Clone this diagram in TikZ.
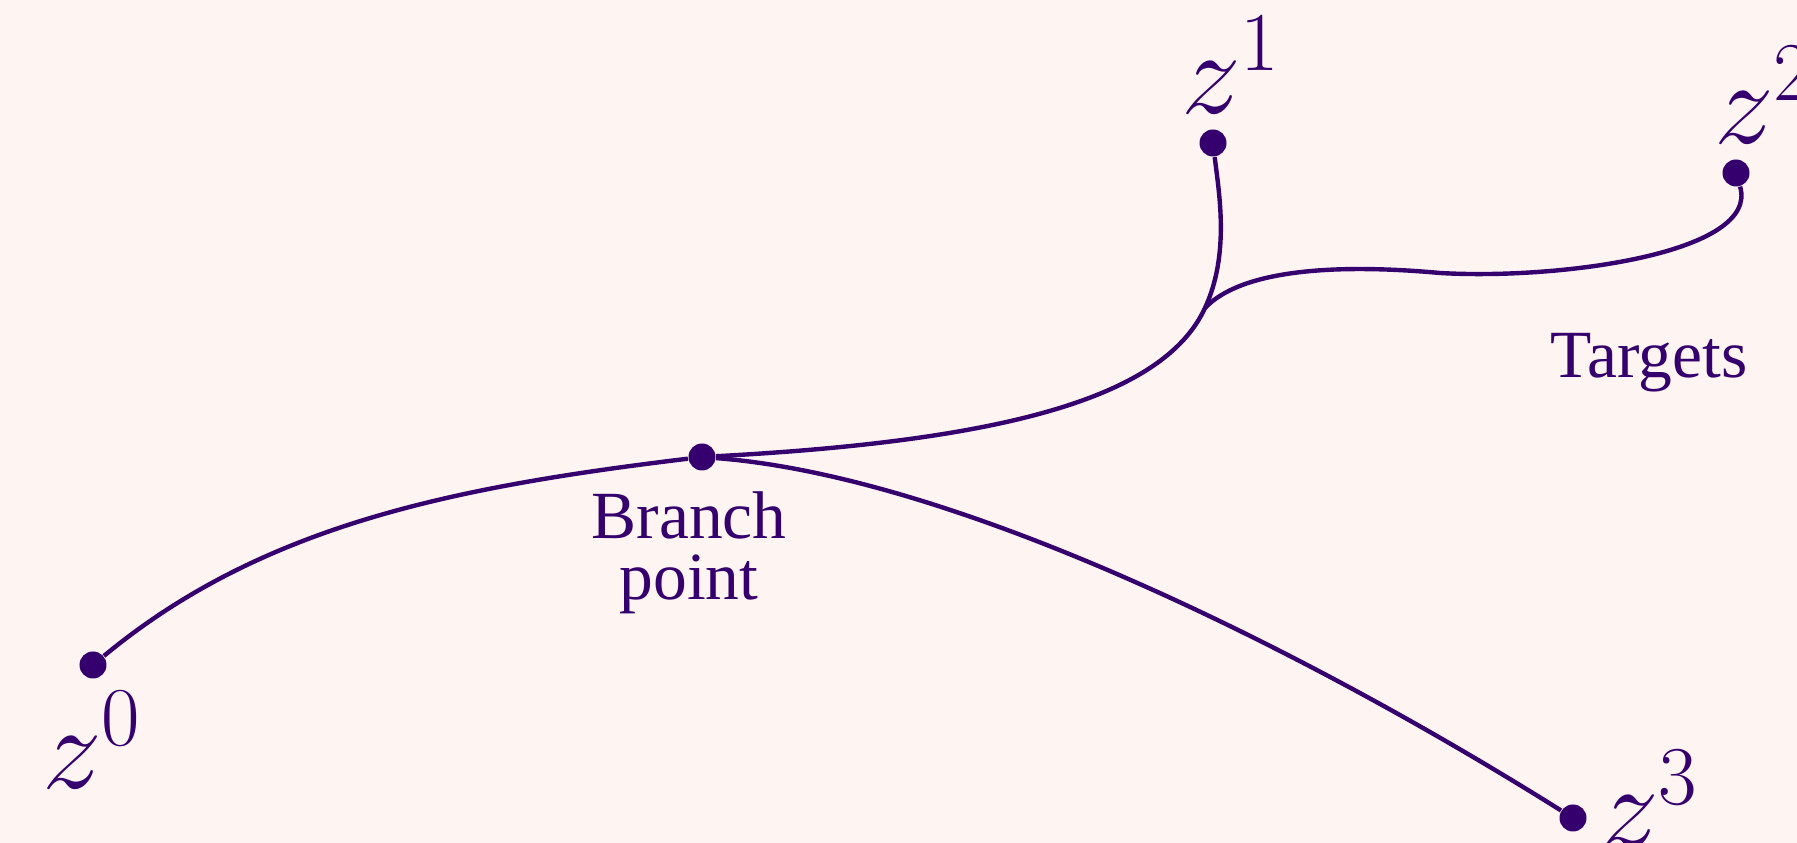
\documentclass[tikz,border=0pt]{standalone}
\usepackage{fix-cm}
\usepackage{fontspec}
\setmainfont{Liberation Serif}
\usepackage{tikz}
\usetikzlibrary{positioning}
\definecolor{TreeInk}{HTML}{35006E}
\definecolor{TreePaper}{HTML}{FEF5F3}

\begin{document}
\begin{tikzpicture}[
  dot/.style={circle, fill=TreeInk, inner sep=0pt, minimum size=0.27cm},
  curve/.style={line width=1.25pt, color=TreeInk},
  zlabel/.style={inner sep=0pt, text=TreeInk, font=\fontsize{34}{40}\selectfont},
  caption/.style={inner sep=0pt, text=TreeInk, align=center, font=\fontsize{19.2}{17.4}\selectfont}
]
  \useasboundingbox (0,0) rectangle (17.97,8.43);
  \fill[TreePaper] (0,0) rectangle (17.97,8.43);

  \node[dot] (z0) at (0.93,1.78) {};
  \node[dot] (bp) at (7.02,3.86) {};
  \node[dot] (z1) at (12.13,7.00) {};
  \node[dot] (z2) at (17.36,6.70) {};
  \node[dot] (z3) at (15.73,0.25) {};
  \coordinate (junc) at (12.05,5.35);

  \draw[curve] (z0) .. controls (2.62,3.18) and (4.54,3.56) .. (bp);
  \draw[curve] (bp) .. controls (10.0,4.02) and (11.63,4.44) .. (junc)
    .. controls (12.30,5.89) and (12.19,6.50) .. (z1);
  \draw[curve] (junc) .. controls (12.4,5.72) and (13.3,5.80) .. (14.4,5.70)
    .. controls (15.6,5.63) and (17.6,5.90) .. (z2);
  \draw[curve] (bp) .. controls (9.6,3.66) and (13.1,1.90) .. (z3);

  \node[zlabel] (lz0) at (0.92,1.03) {$z^0$};
  \node[zlabel] (lz1) at (12.31,7.78) {$z^1$};
  \node[zlabel] (lz2) at (17.64,7.48) {$z^2$};
  \node[zlabel] (lz3) at (16.49,0.44) {$z^3$};
  \node[caption, anchor=north] (bplabel) at (6.89,3.52) {Branch\\point};
  \node[caption, anchor=base] (targets) at (16.49,4.65) {Targets};
\end{tikzpicture}
\end{document}
